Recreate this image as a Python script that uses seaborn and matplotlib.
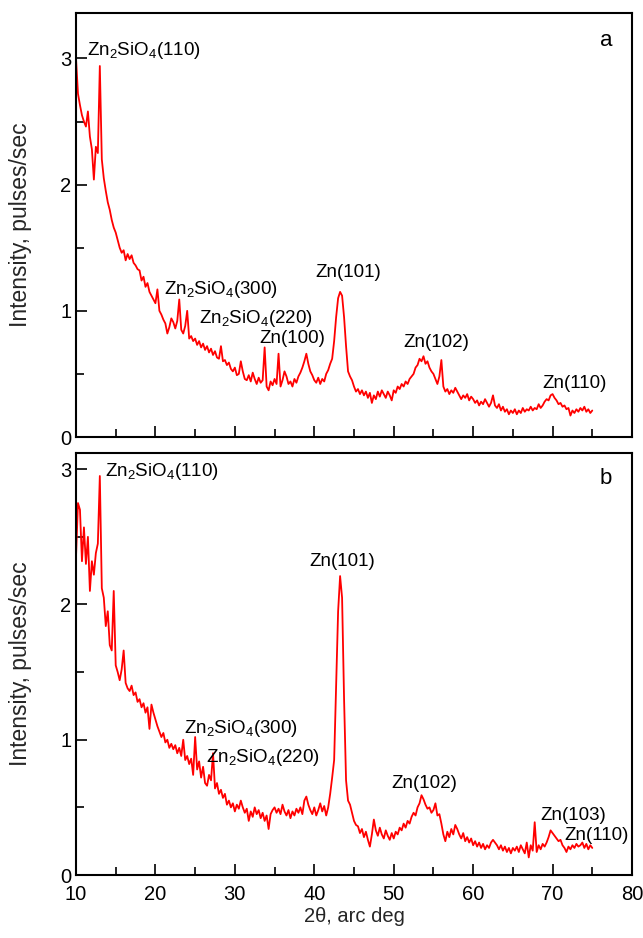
import numpy as np
import pandas as pd
import matplotlib
matplotlib.use("Agg")
import matplotlib.pyplot as plt
from matplotlib.ticker import MultipleLocator
import seaborn as sns

# 2-theta scan grid (deg), step 0.25 from 10 to 75
two_theta = np.arange(10.0, 75.001, 0.25)

intensity_a = [
    3.00, 2.72, 2.63, 2.55, 2.50, 2.46, 2.58, 2.38, 2.28, 2.04, 2.30, 2.25, 2.94, 2.20, 2.05, 1.95, 1.86, 1.80, 1.72, 1.66,
    1.62, 1.56, 1.50, 1.46, 1.48, 1.40, 1.45, 1.41, 1.44, 1.38, 1.36, 1.33, 1.32, 1.24, 1.27, 1.19, 1.22, 1.15, 1.12, 1.09,
    1.06, 1.17, 1.00, 0.97, 0.93, 0.90, 0.82, 0.87, 0.94, 0.91, 0.86, 0.92, 1.09, 0.85, 0.82, 0.88, 1.00, 0.78, 0.80, 0.76,
    0.78, 0.73, 0.76, 0.71, 0.74, 0.69, 0.72, 0.67, 0.70, 0.65, 0.68, 0.63, 0.62, 0.72, 0.60, 0.61, 0.57, 0.59, 0.54, 0.52,
    0.55, 0.49, 0.50, 0.60, 0.52, 0.46, 0.45, 0.49, 0.44, 0.51, 0.46, 0.42, 0.47, 0.43, 0.45, 0.71, 0.40, 0.37, 0.44, 0.41,
    0.46, 0.42, 0.66, 0.40, 0.45, 0.52, 0.48, 0.42, 0.44, 0.40, 0.46, 0.43, 0.48, 0.51, 0.55, 0.60, 0.66, 0.58, 0.52, 0.49,
    0.45, 0.43, 0.47, 0.42, 0.46, 0.44, 0.50, 0.53, 0.58, 0.62, 0.76, 0.95, 1.10, 1.15, 1.12, 0.95, 0.72, 0.52, 0.48, 0.45,
    0.40, 0.36, 0.38, 0.34, 0.37, 0.33, 0.36, 0.31, 0.35, 0.27, 0.33, 0.30, 0.36, 0.32, 0.37, 0.34, 0.31, 0.36, 0.33, 0.29,
    0.37, 0.35, 0.40, 0.38, 0.42, 0.40, 0.44, 0.42, 0.46, 0.48, 0.50, 0.55, 0.57, 0.62, 0.60, 0.64, 0.58, 0.60, 0.55, 0.52,
    0.50, 0.46, 0.42, 0.48, 0.61, 0.40, 0.36, 0.38, 0.34, 0.37, 0.35, 0.39, 0.36, 0.33, 0.30, 0.33, 0.31, 0.34, 0.29, 0.32,
    0.30, 0.27, 0.29, 0.25, 0.28, 0.26, 0.30, 0.27, 0.24, 0.27, 0.33, 0.25, 0.23, 0.26, 0.21, 0.24, 0.20, 0.22, 0.18, 0.21,
    0.19, 0.22, 0.18, 0.21, 0.19, 0.23, 0.20, 0.22, 0.21, 0.24, 0.21, 0.23, 0.22, 0.26, 0.23, 0.25, 0.28, 0.30, 0.29, 0.33,
    0.34, 0.31, 0.29, 0.26, 0.27, 0.24, 0.25, 0.22, 0.23, 0.17, 0.21, 0.19, 0.22, 0.20, 0.23, 0.21, 0.24, 0.20, 0.22, 0.19,
    0.21,
]

intensity_b = [
    2.35, 2.75, 2.70, 2.32, 2.57, 2.30, 2.50, 2.10, 2.32, 2.22, 2.38, 2.45, 2.95, 2.12, 2.05, 1.84, 1.95, 1.70, 1.66, 2.10,
    1.55, 1.50, 1.44, 1.52, 1.66, 1.42, 1.38, 1.36, 1.40, 1.33, 1.35, 1.28, 1.30, 1.24, 1.27, 1.20, 1.24, 1.08, 1.26, 1.20,
    1.15, 1.10, 1.06, 1.02, 1.05, 0.98, 1.00, 0.94, 0.97, 0.93, 0.96, 0.90, 0.94, 0.88, 1.00, 0.85, 0.88, 0.82, 0.86, 0.74,
    1.02, 0.78, 0.84, 0.72, 0.80, 0.68, 0.66, 0.74, 0.70, 0.90, 0.64, 0.68, 0.60, 0.63, 0.57, 0.60, 0.52, 0.55, 0.50, 0.53,
    0.47, 0.52, 0.49, 0.55, 0.50, 0.46, 0.49, 0.40, 0.47, 0.43, 0.50, 0.45, 0.48, 0.42, 0.46, 0.40, 0.44, 0.34, 0.45, 0.48,
    0.50, 0.46, 0.49, 0.45, 0.52, 0.47, 0.44, 0.48, 0.42, 0.47, 0.44, 0.49, 0.46, 0.50, 0.45, 0.55, 0.58, 0.52, 0.48, 0.45,
    0.50, 0.44, 0.48, 0.53, 0.47, 0.51, 0.44, 0.50, 0.60, 0.72, 0.85, 1.40, 1.95, 2.21, 2.05, 1.30, 0.70, 0.55, 0.52, 0.46,
    0.40, 0.37, 0.36, 0.31, 0.34, 0.28, 0.32, 0.26, 0.21, 0.30, 0.41, 0.33, 0.29, 0.35, 0.30, 0.27, 0.33, 0.29, 0.26, 0.31,
    0.27, 0.32, 0.30, 0.35, 0.33, 0.38, 0.35, 0.40, 0.38, 0.43, 0.46, 0.44, 0.50, 0.53, 0.59, 0.56, 0.52, 0.49, 0.50, 0.46,
    0.48, 0.53, 0.44, 0.45, 0.38, 0.30, 0.25, 0.32, 0.28, 0.34, 0.30, 0.37, 0.34, 0.30, 0.27, 0.31, 0.25, 0.28, 0.24, 0.27,
    0.22, 0.25, 0.21, 0.24, 0.20, 0.23, 0.19, 0.22, 0.20, 0.24, 0.26, 0.24, 0.22, 0.19, 0.22, 0.18, 0.21, 0.17, 0.20, 0.16,
    0.20, 0.18, 0.21, 0.17, 0.22, 0.19, 0.16, 0.24, 0.13, 0.22, 0.18, 0.39, 0.17, 0.22, 0.19, 0.23, 0.21, 0.24, 0.28, 0.33,
    0.31, 0.29, 0.27, 0.25, 0.26, 0.22, 0.20, 0.17, 0.21, 0.19, 0.22, 0.20, 0.23, 0.21, 0.22, 0.24, 0.20, 0.23, 0.19, 0.22,
    0.20,
]

# Peak labels: (text, x, y, horizontal alignment)
labels_a = [
    ("Zn$_2$SiO$_4$(110)", 11.4, 3.06, "left"),
    ("Zn$_2$SiO$_4$(300)", 21.1, 1.17, "left"),
    ("Zn$_2$SiO$_4$(220)", 25.5, 0.94, "left"),
    ("Zn(100)", 33.1, 0.78, "left"),
    ("Zn(101)", 44.3, 1.30, "center"),
    ("Zn(102)", 55.4, 0.75, "center"),
    ("Zn(110)", 72.8, 0.42, "center"),
]
labels_b = [
    ("Zn$_2$SiO$_4$(110)", 13.6, 2.98, "left"),
    ("Zn$_2$SiO$_4$(300)", 23.6, 1.08, "left"),
    ("Zn$_2$SiO$_4$(220)", 26.4, 0.87, "left"),
    ("Zn(101)", 43.5, 2.32, "center"),
    ("Zn(102)", 53.8, 0.68, "center"),
    ("Zn(103)", 72.65, 0.44, "center"),
    ("Zn(110)", 75.55, 0.29, "center"),
]

sns.set_style("white")
plt.rcParams["font.family"] = ["Liberation Sans", "DejaVu Sans"]
plt.rcParams["mathtext.fontset"] = "custom"
plt.rcParams["mathtext.rm"] = "Liberation Sans"
plt.rcParams["mathtext.it"] = "Liberation Sans"

fig = plt.figure(figsize=(6.43, 9.38), dpi=100)
ax_a = fig.add_axes([76 / 643, 1 - 437 / 938, (632 - 76) / 643, (437 - 13) / 938])
ax_b = fig.add_axes([76 / 643, 1 - 875 / 938, (632 - 76) / 643, (875 - 453) / 938])

df_a = pd.DataFrame({"two_theta": two_theta, "intensity": intensity_a})
df_b = pd.DataFrame({"two_theta": two_theta, "intensity": intensity_b})

for ax, df, ymax, labels, tag, tag_y in [
    (ax_a, df_a, 3.36, labels_a, "a", 3.14),
    (ax_b, df_b, 3.12, labels_b, "b", 2.93),
]:
    sns.lineplot(data=df, x="two_theta", y="intensity", ax=ax, color="#ff0000",
                 linewidth=1.3, estimator=None, sort=False)
    ax.set_xlim(10, 80)
    ax.set_ylim(0, ymax)
    ax.xaxis.set_major_locator(MultipleLocator(10))
    ax.xaxis.set_minor_locator(MultipleLocator(5))
    ax.yaxis.set_major_locator(MultipleLocator(1))
    ax.yaxis.set_minor_locator(MultipleLocator(0.5))
    ax.tick_params(which="both", direction="in", bottom=True, left=True,
                   top=False, right=False, width=1.2, colors="black")
    ax.tick_params(which="major", length=8, labelsize=14.5)
    ax.tick_params(axis="x", which="major", pad=7)
    ax.tick_params(which="minor", length=6)
    for s in ax.spines.values():
        s.set_visible(True)
        s.set_color("black")
        s.set_linewidth(1.5)
    ax.set_ylabel("Intensity, pulses/sec", fontsize=16.5)
    ax.yaxis.set_label_coords(-0.079, 0.5)
    for txt, x, y, ha in labels:
        ax.text(x, y, txt, ha=ha, va="center", fontsize=13.5, color="black")
    ax.text(76.7, tag_y, tag, ha="center", va="center", fontsize=16, color="black")

ax_a.set_xlabel("")
ax_a.tick_params(axis="x", labelbottom=False)
ax_b.set_xlabel("2θ, arc deg", fontsize=14.5, labelpad=2)

fig.savefig("out.png", dpi=100)
